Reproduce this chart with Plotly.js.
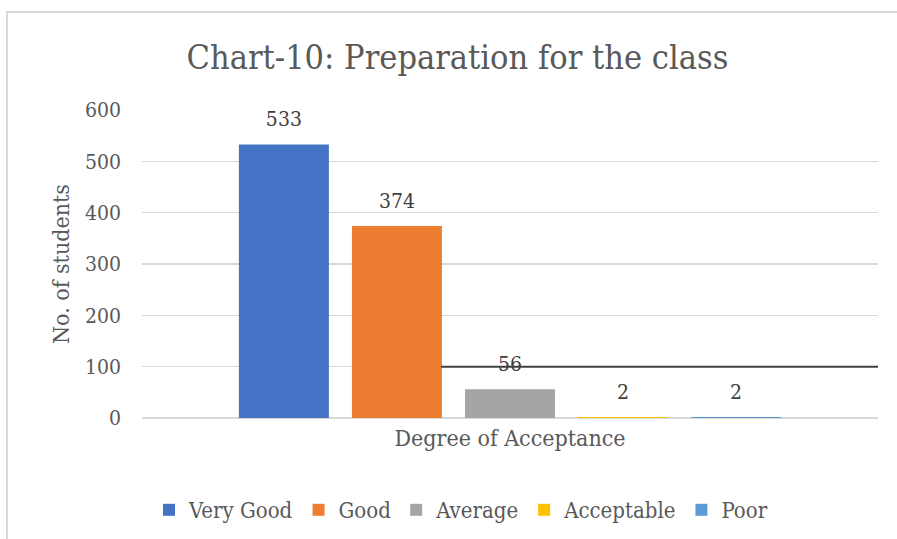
<!DOCTYPE html>
<html>
<head>
<meta charset="utf-8">
<script src="https://cdn.plot.ly/plotly-3.0.1.min.js"></script>
<style>html,body{margin:0;padding:0;background:#fff}#chart{width:897px;height:539px}</style>
</head>
<body>
<div id="chart"></div>
<script>
const category = ["Degree of Acceptance"];
const seriesNames = ["Very Good", "Good", "Average", "Acceptable", "Poor"];
const seriesValues = [533, 374, 56, 2, 2];
const seriesColors = ["#4472C4", "#ED7D31", "#A5A5A5", "#FFC000", "#5B9BD5"];
const yTicks = [0, 100, 200, 300, 400, 500, 600];

const FONT = "'DejaVu Serif Condensed', 'DejaVu Serif', serif";
const TXT = "#595959";
// invisible padding glyphs lift the outside label a little above the bar (like Excel)
const PAD = '<span style="font-size:62px">\u00a0</span>';

const traces = seriesNames.map((name, i) => ({
  type: "bar",
  name: name,
  x: category,
  y: [seriesValues[i]],
  marker: { color: seriesColors[i] },
  texttemplate: PAD + "%{y}" + PAD,
  textposition: "outside",
  cliponaxis: false,
  textfont: { family: FONT, size: 21, color: "#404040" },
  hoverinfo: "name+y"
}));

const layout = {
  width: 897, height: 539,
  margin: { l: 142, r: 19, t: 110, b: 121 },
  paper_bgcolor: "#fff", plot_bgcolor: "#fff",
  font: { family: FONT, color: TXT },
  title: { text: "Chart-10: Preparation for the class", font: { family: FONT, size: 34, color: TXT },
           xref: "container", x: 0.51, xanchor: "center", yref: "container", y: 1 - 57/539, yanchor: "middle" },
  barmode: "group", bargap: 0.232, bargroupgap: 0.204,
  xaxis: { type: "category", showgrid: false, showline: false, zeroline: false, ticks: "",
           tickfont: { family: FONT, size: 23, color: TXT }, ticklabelstandoff: 4 },
  yaxis: { range: [0, 600], tickvals: yTicks, showgrid: true, gridcolor: "#d9d9d9", gridwidth: 1.5,
           zeroline: true, zerolinecolor: "#d9d9d9", zerolinewidth: 1.5, showline: false, ticks: "",
           tickfont: { family: FONT, size: 21, color: TXT }, ticklabelstandoff: 20,
           title: { text: "No. of students", font: { family: FONT, size: 23, color: TXT }, standoff: 8 } },
  showlegend: true,
  legend: { orientation: "h", xref: "container", x: 461/897, xanchor: "center", yref: "container", y: 1 - 510/539, yanchor: "middle",
            font: { family: FONT, size: 22, color: TXT }, itemwidth: 30, itemgap: 8, traceorder: "normal" },
  shapes: [
    { type: "rect", xref: "paper", yref: "paper", x0: (7-142)/736, x1: 1.2, y0: -0.6, y1: 1 + (110-12)/308,
      line: { color: "#d9d9d9", width: 2 }, fillcolor: "rgba(0,0,0,0)", layer: "below" },
    { type: "line", xref: "paper", yref: "y", x0: (441-142)/736, x1: 1, y0: 100, y1: 100,
      line: { color: "#404040", width: 2 }, layer: "above" }
  ]
};

Plotly.newPlot("chart", traces, layout, { displayModeBar: false, staticPlot: true });
</script>
</body>
</html>
